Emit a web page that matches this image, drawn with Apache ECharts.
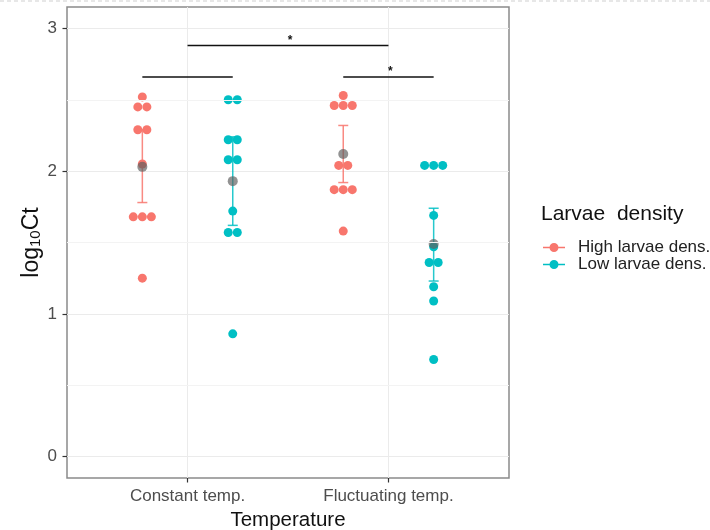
<!DOCTYPE html>
<html>
<head>
<meta charset="utf-8">
<script src="https://cdn.jsdelivr.net/npm/echarts@6/dist/echarts.min.js"></script>
<style>
  html, body { margin: 0; padding: 0; background: #fff; }
  #chart { width: 710px; height: 530px; }
</style>
</head>
<body>
<div id="chart"></div>
<script>
// x 轴类别
const temps = ["Constant temp.", "Fluctuating temp."];
const groups = ["High larvae dens.", "Low larvae dens."];
const colors = ["#F8766D", "#00BFC4"];

// log10Ct 原始点，每组 10 个
const highConst = [2.52, 2.45, 2.45, 2.29, 2.29, 2.05, 1.68, 1.68, 1.68, 1.25];
const lowConst = [2.50, 2.50, 2.22, 2.22, 2.08, 2.08, 1.72, 1.57, 1.57, 0.86];
const highFluct = [2.53, 2.46, 2.46, 2.46, 2.04, 2.04, 1.87, 1.87, 1.87, 1.58];
const lowFluct = [2.04, 2.04, 2.04, 1.69, 1.47, 1.36, 1.36, 1.19, 1.09, 0.68];

// 均值和误差线（按温度顺序）
const highMean = [2.03, 2.12];
const lowMean = [1.93, 1.49];
const highLower = [1.78, 1.92];
const highUpper = [2.29, 2.32];
const lowLower = [1.62, 1.23];
const lowUpper = [2.24, 1.74];

// 坐标轴刻度
const yTicks = [0, 1, 2, 3];
const yMinor = [0.5, 1.5, 2.5];

// 显著性标记：[起点组, 终点组, 高度, 文字]，组 = [温度序号, 密度序号或 -1 表示类别中心]
const brackets = [
  [[0, -1], [1, -1], 2.88, "*"],
  [[0, 0], [0, 1], 2.66, ""],
  [[1, 0], [1, 1], 2.66, "*"],
];

const DODGE = 0.225;
const DOT_STEP = 0.045;

function groupX(t, d) {
  if (d < 0) return t + 1;
  return t + 1 + (d === 0 ? -DODGE : DODGE);
}

// 相同数值横向排开（类似 geom_dotplot）
function dots(values, cx) {
  const count = {};
  values.forEach((v) => (count[v] = (count[v] || 0) + 1));
  const seen = {};
  return values.map((v) => {
    const i = (seen[v] = seen[v] === undefined ? 0 : seen[v] + 1);
    return [cx + (i - (count[v] - 1) / 2) * DOT_STEP, v];
  });
}

function errorBar(color) {
  return function (params, api) {
    const x = api.value(0);
    const lo = api.coord([x, api.value(1)]);
    const hi = api.coord([x, api.value(2)]);
    const w = 5;
    const style = { stroke: color, lineWidth: 1.5, opacity: 0.85 };
    return {
      type: "group",
      children: [
        { type: "line", shape: { x1: lo[0], y1: hi[1], x2: lo[0], y2: lo[1] }, style },
        { type: "line", shape: { x1: lo[0] - w, y1: hi[1], x2: lo[0] + w, y2: hi[1] }, style },
        { type: "line", shape: { x1: lo[0] - w, y1: lo[1], x2: lo[0] + w, y2: lo[1] }, style },
      ],
    };
  };
}

const chart = echarts.init(document.getElementById("chart"));

const legendIcon =
  "path://M0,3.8 H22 V5.2 H0 Z M6.5,4.5 A4.5,4.5 0 1,1 15.5,4.5 A4.5,4.5 0 1,1 6.5,4.5 Z";

const option = {
  backgroundColor: "#fff",
  animation: false,
  textStyle: { fontFamily: "Liberation Sans, Arial, sans-serif" },
  graphic: [
    {
      type: "line",
      shape: { x1: 0, y1: 1, x2: 710, y2: 1 },
      style: { stroke: "#cfcfcf", lineWidth: 1, lineDash: [4, 3] },
    },
  ],
  title: {
    text: "Larvae  density",
    left: 536,
    top: 199,
    textStyle: { fontSize: 21, fontWeight: "normal", color: "#111" },
  },
  legend: {
    data: groups,
    orient: "vertical",
    left: 538,
    top: 234,
    itemWidth: 22,
    itemHeight: 9,
    itemGap: 0,
    icon: legendIcon,
    textStyle: { fontSize: 17, color: "#222", padding: [0, 0, 0, 8], lineHeight: 14 },
  },
  grid: {
    left: 67,
    right: 201,
    top: 7,
    bottom: 52,
    show: true,
    outerBoundsMode: "none",
    containLabel: false,
    borderColor: "#8a8a8a",
    borderWidth: 1.5,
  },
  xAxis: {
    type: "value",
    min: 0.4,
    max: 2.6,
    name: "Temperature",
    nameLocation: "middle",
    nameGap: 32,
    nameMoveOverlap: false,
    nameTextStyle: { fontSize: 20.5, color: "#111" },
    axisLine: { show: false, onZero: false },
    axisTick: { show: true, length: 4.5, customValues: [1, 2], lineStyle: { color: "#333", width: 1.2 } },
    axisLabel: {
      customValues: [1, 2],
      formatter: (v) => temps[Math.round(v) - 1],
      fontSize: 17,
      color: "#4d4d4d",
      margin: 10,
    },
    splitLine: { show: true, lineStyle: { color: "#ebebeb", width: 1 } },
  },
  yAxis: {
    type: "value",
    min: -0.15,
    max: 3.15,
    name: "log{sub|10}Ct",
    nameLocation: "middle",
    nameGap: 24,
    nameMoveOverlap: false,
    nameRotate: 90,
    nameTextStyle: {
      fontSize: 23,
      color: "#111",
      rich: { sub: { fontSize: 15, verticalAlign: "bottom", padding: [8, 0, 0, 0], color: "#111" } },
    },
    axisLine: { show: false, onZero: false },
    axisTick: { show: true, length: 4.5, customValues: yTicks, lineStyle: { color: "#333", width: 1.2 } },
    axisLabel: { customValues: yTicks, fontSize: 17, color: "#4d4d4d", margin: 10 },
    splitLine: { show: true, lineStyle: { color: "#ebebeb", width: 1 } },
  },
  series: [
    {
      name: "minor",
      type: "custom",
      z: 0,
      silent: true,
      data: [],
      renderItem: () => null,
      markLine: {
        silent: true,
        symbol: "none",
        label: { show: false },
        lineStyle: { color: "#f3f3f3", width: 1, type: "solid" },
        data: yMinor.map((v) => ({ yAxis: v })),
      },
    },
    {
      name: groups[0] + " err",
      type: "custom",
      z: 1,
      silent: true,
      encode: { x: 0, y: [1, 2] },
      data: temps.map((t, i) => [groupX(i, 0), highLower[i], highUpper[i]]),
      renderItem: errorBar(colors[0]),
    },
    {
      name: groups[1] + " err",
      type: "custom",
      z: 1,
      silent: true,
      encode: { x: 0, y: [1, 2] },
      data: temps.map((t, i) => [groupX(i, 1), lowLower[i], lowUpper[i]]),
      renderItem: errorBar(colors[1]),
    },
    {
      name: groups[0],
      type: "scatter",
      z: 3,
      symbolSize: 9,
      itemStyle: { color: colors[0], opacity: 1 },
      data: dots(highConst, groupX(0, 0)).concat(dots(highFluct, groupX(1, 0))),
    },
    {
      name: groups[1],
      type: "scatter",
      z: 3,
      symbolSize: 9,
      itemStyle: { color: colors[1], opacity: 1 },
      data: dots(lowConst, groupX(0, 1)).concat(dots(lowFluct, groupX(1, 1))),
    },
    {
      name: "mean",
      type: "scatter",
      z: 4,
      symbolSize: 10,
      itemStyle: { color: "rgba(95,95,95,0.85)" },
      data: temps
        .map((t, i) => [groupX(i, 0), highMean[i]])
        .concat(temps.map((t, i) => [groupX(i, 1), lowMean[i]])),
    },
    {
      name: "brackets",
      type: "custom",
      z: 5,
      silent: true,
      encode: { x: [0, 1], y: 2 },
      data: brackets.map((b) => [groupX(b[0][0], b[0][1]), groupX(b[1][0], b[1][1]), b[2]]),
      renderItem: function (params, api) {
        const a = api.coord([api.value(0), api.value(2)]);
        const b = api.coord([api.value(1), api.value(2)]);
        const label = brackets[params.dataIndex][3];
        return {
          type: "group",
          children: [
            {
              type: "line",
              shape: { x1: a[0], y1: a[1], x2: b[0], y2: b[1] },
              style: { stroke: "#111", lineWidth: 1.6 },
            },
            {
              type: "text",
              style: {
                text: label,
                x: (a[0] + b[0]) / 2 + 2,
                y: a[1] - 5,
                align: "center",
                verticalAlign: "middle",
                fontSize: 12,
                fontWeight: "bold",
                fill: "#111",
              },
            },
          ],
        };
      },
    },
  ],
};

chart.setOption(option);
</script>
</body>
</html>
